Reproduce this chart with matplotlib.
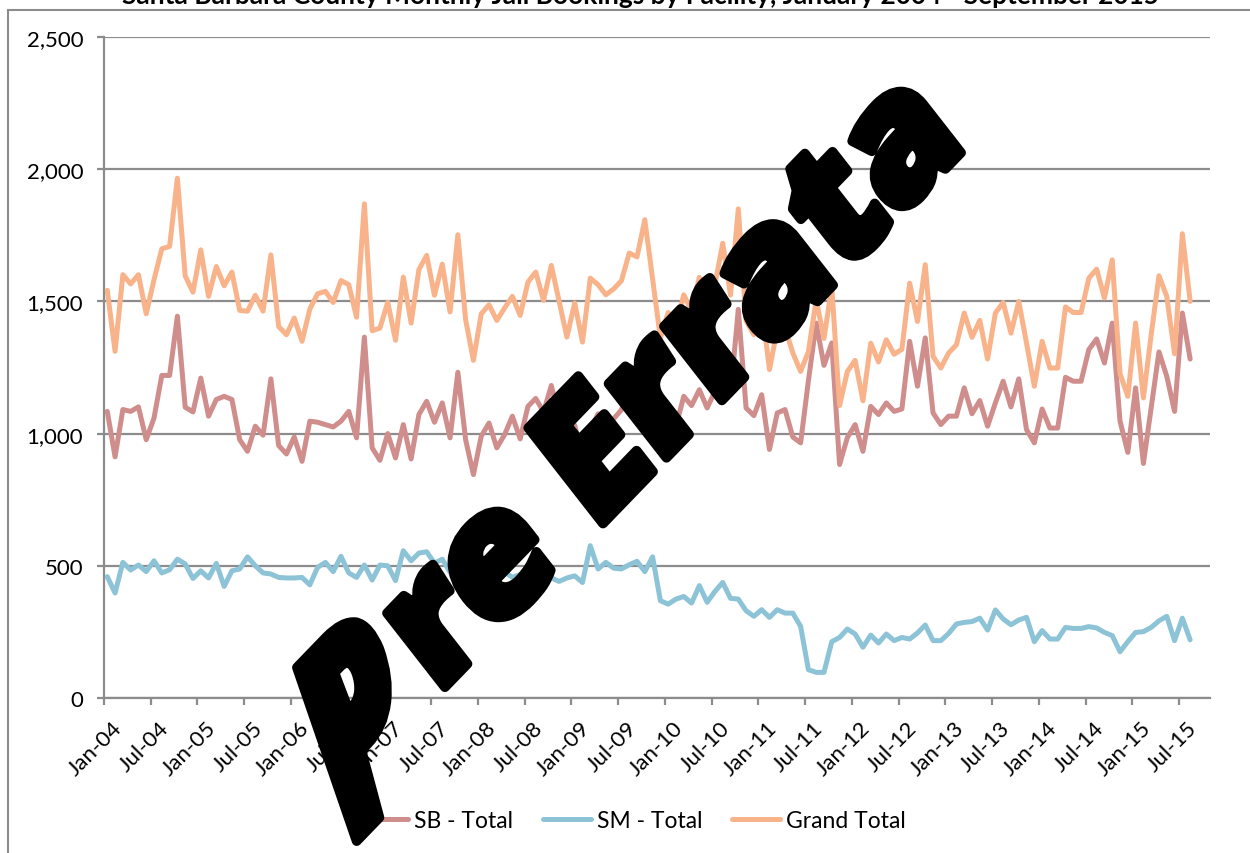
import matplotlib
matplotlib.use('Agg')
import matplotlib.pyplot as plt
from matplotlib.lines import Line2D
from matplotlib.textpath import TextPath
from matplotlib.font_manager import FontProperties
from matplotlib.patches import PathPatch
from matplotlib.path import Path
from matplotlib.transforms import Affine2D, ScaledTranslation
import numpy as np

# ---------------- data (monthly, Jan-04 .. Aug-15) ----------------
sb_total = [1084, 912, 1091, 1084, 1101, 977, 1059, 1220, 1220, 1444,
            1100, 1082, 1210, 1066, 1129, 1141, 1129, 977, 933, 1028,
            994, 1207, 955, 923, 987, 895, 1047, 1043, 1034, 1025,
            1047, 1084, 984, 1365, 946, 899, 1000, 908, 1034, 904,
            1072, 1122, 1043, 1116, 984, 1232, 977, 845, 990, 1040,
            946, 996, 1066, 980, 1103, 1133, 1082, 1182, 1059, 911,
            1032, 909, 1012, 1075, 1012, 1056, 1090, 1179, 1151, 1331,
            1052, 993, 1103, 1028, 1141, 1106, 1166, 1097, 1160, 1286,
            1147, 1470, 1097, 1068, 1147, 940, 1078, 1091, 987, 965,
            1200, 1418, 1258, 1343, 883, 985, 1034, 933, 1103, 1072,
            1116, 1084, 1093, 1349, 1179, 1362, 1078, 1034, 1066, 1066,
            1173, 1075, 1125, 1028, 1116, 1198, 1101, 1207, 1015, 965,
            1093, 1021, 1021, 1213, 1198, 1198, 1318, 1358, 1267, 1418,
            1047, 929, 1173, 887, 1097, 1309, 1217, 1084, 1456, 1282]

sm_total = [459, 397, 513, 484, 503, 478, 519, 473, 485, 525,
            507, 452, 481, 454, 509, 422, 481, 488, 534, 500,
            473, 469, 456, 454, 454, 456, 428, 494, 513, 478,
            536, 473, 456, 503, 446, 503, 500, 444, 557, 519,
            548, 553, 510, 525, 476, 520, 454, 444, 456, 443,
            485, 478, 456, 467, 470, 478, 422, 454, 441, 454,
            462, 437, 576, 488, 513, 491, 488, 504, 517, 478,
            534, 368, 355, 374, 384, 359, 425, 362, 403, 437,
            377, 374, 330, 309, 334, 305, 334, 321, 321, 271,
            107, 97, 97, 213, 229, 261, 242, 192, 238, 208,
            242, 217, 229, 223, 246, 276, 217, 217, 244, 280,
            286, 289, 302, 257, 333, 299, 277, 295, 305, 213,
            255, 223, 223, 267, 263, 263, 270, 265, 248, 236,
            175, 213, 248, 251, 267, 292, 309, 217, 302, 220]

grand_total = [1542, 1311, 1601, 1566, 1601, 1453, 1582, 1699, 1708, 1966,
               1597, 1535, 1695, 1519, 1632, 1559, 1611, 1466, 1463, 1523,
               1463, 1676, 1405, 1374, 1437, 1349, 1471, 1529, 1538, 1496,
               1579, 1563, 1440, 1869, 1389, 1399, 1497, 1353, 1592, 1418,
               1620, 1674, 1523, 1641, 1460, 1752, 1431, 1277, 1453, 1487,
               1428, 1475, 1519, 1447, 1573, 1611, 1504, 1636, 1500, 1365,
               1494, 1346, 1588, 1563, 1525, 1547, 1578, 1683, 1668, 1809,
               1586, 1361, 1458, 1402, 1525, 1465, 1591, 1456, 1563, 1720,
               1524, 1850, 1427, 1374, 1484, 1242, 1395, 1400, 1305, 1235,
               1310, 1506, 1360, 1555, 1106, 1235, 1277, 1124, 1342, 1271,
               1355, 1300, 1319, 1569, 1424, 1639, 1292, 1248, 1305, 1336,
               1456, 1364, 1428, 1282, 1456, 1496, 1380, 1500, 1342, 1179,
               1349, 1248, 1248, 1479, 1458, 1458, 1588, 1622, 1513, 1657,
               1227, 1141, 1418, 1135, 1374, 1597, 1519, 1302, 1756, 1500]

tick_labels = ['Jan-04', 'Jul-04', 'Jan-05', 'Jul-05', 'Jan-06', 'Jul-06',
               'Jan-07', 'Jul-07', 'Jan-08', 'Jul-08', 'Jan-09', 'Jul-09',
               'Jan-10', 'Jul-10', 'Jan-11', 'Jul-11', 'Jan-12', 'Jul-12',
               'Jan-13', 'Jul-13', 'Jan-14', 'Jul-14', 'Jan-15', 'Jul-15']
y_ticks = [0, 500, 1000, 1500, 2000, 2500]
y_labels = ['0', '500', '1,000', '1,500', '2,000', '2,500']
series_names = ['SB - Total', 'SM - Total', 'Grand Total']

title = 'Santa Barbara County Monthly Jail Bookings by Facility, January 2004 - September 2015'
watermark = 'Pre Errata'

# ---------------- styling ----------------
plt.rcParams['font.family'] = ['Lato', 'DejaVu Sans']
W, H = 1250, 854
GRID = '#8C8C8C'
C_SB, C_SM, C_GT = '#CF8D8C', '#8DC3D6', '#F8B38A'


def fx(px):
    return px / W


def fy(py):
    return 1 - py / H


fig = plt.figure(figsize=(W / 100, H / 100), dpi=100)
ax = fig.add_axes([fx(104), fy(699), fx(1210) - fx(104), (699 - 38) / H])

x = np.arange(len(sb_total))
for vals, col, name in zip([sb_total, sm_total, grand_total], [C_SB, C_SM, C_GT], series_names):
    ax.plot(x, vals, color=col, lw=3.6, solid_joinstyle='round', solid_capstyle='round',
            label=name, zorder=3)

ax.set_xlim(-0.42, 141.55)
ax.set_ylim(0, 2500)
ax.set_yticks(y_ticks)
ax.set_yticklabels(y_labels, fontsize=16)
ax.yaxis.grid(True, color=GRID, lw=1.6)
ax.set_axisbelow(True)
for s in ['top', 'right']:
    ax.spines[s].set_visible(False)
for s in ['left', 'bottom']:
    ax.spines[s].set_color(GRID)
    ax.spines[s].set_linewidth(1.6)
    ax.spines[s].set_zorder(2)

tick_pos = [6 * k - 0.42 for k in range(len(tick_labels))]
ax.set_xticks(tick_pos)
ax.set_xticklabels(tick_labels, fontsize=16, rotation=45, ha='right', va='top',
                   rotation_mode='anchor')
ax.tick_params(axis='x', length=5, width=1.6, color=GRID, pad=3)
ax.tick_params(axis='y', length=5, width=1.6, color=GRID, pad=10)
shift = ScaledTranslation(0.08, -0.08, fig.dpi_scale_trans)
for lab in ax.get_xticklabels():
    lab.set_transform(lab.get_transform() + shift)

fig.legend(loc='center', bbox_to_anchor=(fx(633), fy(822)), ncol=3, frameon=False,
           fontsize=16.5, handlelength=2.1, handletextpad=0.25, columnspacing=1.3)

# chart-area frame (left and top edges visible)
fig.add_artist(Line2D([fx(8), fx(8)], [fy(11), 0], transform=fig.transFigure,
                      color=GRID, lw=1.5))
fig.add_artist(Line2D([fx(8), 1], [fy(11), fy(11)], transform=fig.transFigure,
                      color=GRID, lw=1.5))

# title (cut at top of picture)
fig.text(fx(641), fy(4), title, ha='center', va='baseline', fontsize=18.9,
         fontweight='bold')

# watermark: rotated, slightly oblique heavy word-art text
fp = FontProperties(family=['Open Sans', 'DejaVu Sans'], weight='heavy')
tp = TextPath((0, 0), watermark, size=1, prop=fp)
p_right = TextPath((0, 0), watermark[0], size=1, prop=fp).get_extents().x1
cap = 0.714
em_px = 170.0
au, av = np.deg2rad(46.0), np.deg2rad(128.0)
u = tp.vertices[:, 0]
v = tp.vertices[:, 1]
X = em_px * (u * np.cos(au) + v * np.cos(av))
Y = em_px * (u * np.sin(au) + v * np.sin(av))
cx, cy = (X.min() + X.max()) / 2, (Y.min() + Y.max()) / 2
X = X + 629.0 - cx
Y = Y + (H - 433.0) - cy
# word-art warp: first letter's lower part pulled down
mask = u < p_right + 0.01
wgt = np.clip(1 - v / cap, 0, 1) ** 1.5
X[mask] += -15.0 * wgt[mask]
Y[mask] += -78.0 * wgt[mask]
wm_path = Path(np.column_stack([X, Y]), tp.codes)
tr = Affine2D().scale(1 / W, 1 / H) + fig.transFigure
fig.add_artist(PathPatch(wm_path, transform=tr, facecolor='black', edgecolor='black',
                         lw=7, joinstyle='round', zorder=20))

fig.savefig('out.png', dpi=100)
